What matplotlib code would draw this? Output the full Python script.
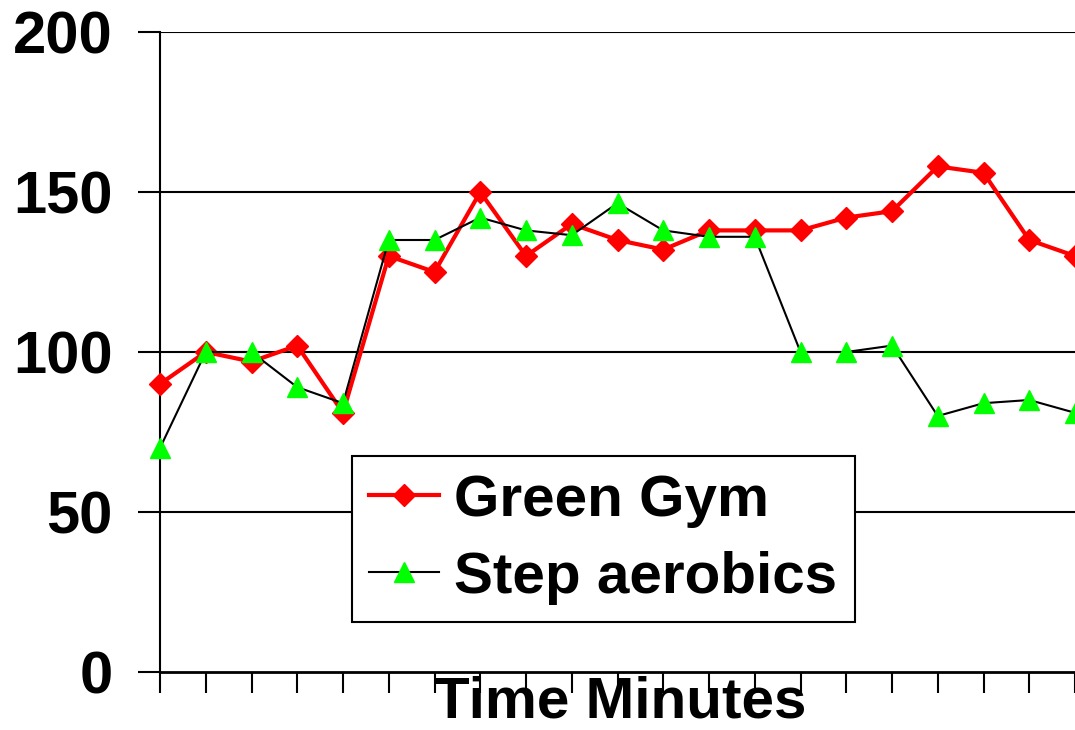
import matplotlib
matplotlib.use("Agg")
import matplotlib.pyplot as plt

plt.rcParams['font.family'] = ['Liberation Sans', 'DejaVu Sans']
plt.rcParams['font.weight'] = 'bold'

# heart rate readings, one per minute
minutes = list(range(21))
green_gym = [90, 100, 97, 102, 81, 130, 125, 150, 130, 140, 135, 132, 138, 138,
             138, 142, 144, 158, 156, 135, 130]
step_aerobics = [70, 100, 100, 89, 84, 135, 135, 142, 138, 136.5, 146.5, 138, 136, 136,
                 100, 100, 102, 80, 84, 85, 81]
y_ticks = [0, 50, 100, 150, 200]

fig = plt.figure(figsize=(10.75, 7.3), dpi=100)
ax = fig.add_axes([160 / 1075, 1 - 672 / 730, 1 - 160 / 1075, 640 / 730])

for y in y_ticks[1:]:
    ax.axhline(y, color='black', lw=1.5, zorder=1)

ax.plot(minutes, green_gym, color='#ff0000', lw=3, marker='D', markersize=11,
        markeredgecolor='#ff0000', label='Green Gym', zorder=3, clip_on=False)
ax.plot(minutes, step_aerobics, color='black', lw=1.5, marker='^', markersize=14,
        markerfacecolor='#00ff00', markeredgecolor='#00ff00', label='Step aerobics',
        zorder=4, clip_on=False)

ax.set_xlim(0, 915 / 46)
ax.set_ylim(0, 200)
ax.set_yticks(y_ticks)
ax.set_xticks(minutes)
ax.set_xticklabels([])
ax.tick_params(axis='y', length=16, width=1.5, labelsize=43, pad=18)
ax.tick_params(axis='x', length=15, width=1.5, direction='out')

for side in ['top', 'right']:
    ax.spines[side].set_visible(False)
ax.spines['left'].set_linewidth(1.5)
ax.spines['bottom'].set_linewidth(2)

fig.text(620 / 1075, 1 / 730, 'Time Minutes', fontsize=42, fontweight='bold',
         ha='center', va='bottom')

leg = ax.legend(loc='upper left', bbox_to_anchor=(352 / 1075, 1 - 456 / 730),
                bbox_transform=fig.transFigure, fontsize=42, frameon=True,
                fancybox=False, edgecolor='black', framealpha=1,
                handlelength=1.2, handletextpad=0.25, labelspacing=0.4,
                borderpad=0.3, borderaxespad=0)
leg.get_frame().set_linewidth(1.5)
for t in leg.get_texts():
    t.set_fontweight('bold')

fig.savefig('out.png', dpi=100)
